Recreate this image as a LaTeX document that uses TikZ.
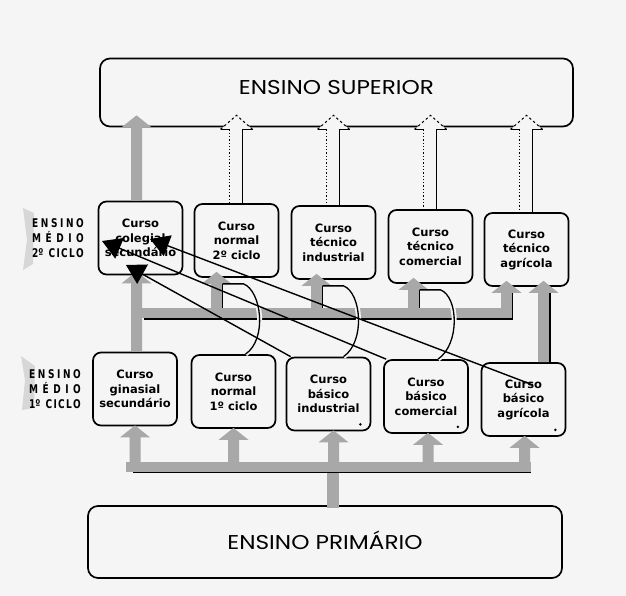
\documentclass[tikz,border=0pt]{standalone}
\usepackage{fontspec}
\usepackage{graphicx}
\usetikzlibrary{arrows.meta,calc}
\newfontfamily\labelfont{DejaVu Sans}
\newfontfamily\headfont{Poppins}
\definecolor{paper}{gray}{0.96}
\definecolor{arrowgray}{gray}{0.66}

% narrow letters spread over a fixed width (stage labels)
\newcommand\spread[1]{\scalebox{0.75}[1]{\makebox[69pt][s]{#1}}}
% wide lettering for the two levels
\newcommand\wide[1]{\scalebox{1.16}[1]{#1}}

% thick grey arrow pointing up: #1 = foot, #2 = tip (same x)
\newcommand\fatup[2]{%
  \fill[arrowgray] ($(#1)+(-5.5,0)$) -- ($(#2)+(-5.5,12)$) -- ($(#2)+(-15,12)$)
    -- (#2) -- ($(#2)+(15,12)$) -- ($(#2)+(5.5,12)$) -- ($(#1)+(5.5,0)$) -- cycle;}

% open arrow with dotted shaft from a course box up to higher education
\newcommand\hollowclimb[1]{%
  \coordinate (hb) at (#1.north);
  \coordinate (ht) at ($(#1.north |- sup.south)+(0,-12)$);
  \fill[paper] ($(ht)+(-16,14)$) -- (ht) -- ($(ht)+(16,14)$) -- cycle;
  \draw[line width=1pt, dash pattern=on 2.5pt off 2.5pt]
    ($(ht)+(-16,14)$) -- (ht) -- ($(ht)+(16,14)$);
  \draw[line width=1.3pt, dotted] ($(ht)+(-7,14)$) -- ($(hb)+(-7,0)$);
  \draw[line width=1.3pt] ($(ht)+(16,14)$) -- ($(ht)+(6,14)$) -- ($(hb)+(6,0)$);
  \draw[line width=1pt] ($(ht)+(-16,14)$) -- ($(ht)+(-8,14)$);}

\begin{document}
\begin{tikzpicture}[x=1pt,y=-1pt,
  course/.style={draw, line width=1.7pt, rounded corners=8pt, fill=paper,
    minimum width=84pt, minimum height=73pt, inner sep=0pt, align=center,
    font=\labelfont\bfseries\fontsize{11.5}{14.5}\selectfont},
  level/.style={draw, line width=1.7pt, rounded corners=10pt, fill=paper,
    inner sep=0pt, font=\headfont\fontsize{20}{22}\selectfont},
  stage/.style={font=\labelfont\bfseries\fontsize{12}{15}\selectfont,
    align=center, inner sep=0pt},
  smudge/.style={draw=none, fill=black, fill opacity=0.12},
  edge/.style={line width=1.3pt},
  halo/.style={draw=paper, line width=5pt},
  pointer/.style={line width=1.4pt, -{Triangle[length=19pt,width=22pt]}}]

\useasboundingbox (0,0) rectangle (626,596);
\fill[paper] (0,0) rectangle (626,596);

% faint grey tabs behind the stage labels
\fill[smudge] (23,208) -- (34,213) -- (33,264) -- (23,270) -- (27,240) -- cycle;
\fill[smudge] (21,356) -- (35,366) -- (34,408) -- (22,410) -- (25,380) -- cycle;

% levels
\node[level, minimum width=473pt, minimum height=68pt, text depth=10pt]
  (sup) at (336.5,92.5) {\wide{ENSINO SUPERIOR}};
\node[level, minimum width=474pt, minimum height=72pt, text depth=4pt]
  (prim) at (325,542) {\wide{ENSINO PRIMÁRIO}};

% second cycle
\node[course] (colegial) at (140.5,238)   {Curso\\colegial\\secundário};
\node[course] (normal2)  at (236.5,240.5) {Curso\\normal\\2º ciclo};
\node[course] (tecind)   at (333.5,242.5) {Curso\\técnico\\industrial};
\node[course] (teccom)   at (430.5,246.5) {Curso\\técnico\\comercial};
\node[course] (tecagr)   at (526.5,249.5) {Curso\\técnico\\agrícola};

% first cycle
\node[course] (ginasial) at (135,389)   {Curso\\ginasial\\secundário};
\node[course] (normal1)  at (233.5,391.5) {Curso\\normal\\1º ciclo};
\node[course] (basind)   at (328.5,394) {Curso\\básico\\industrial};
\node[course] (bascom)   at (426,396.5) {Curso\\básico\\comercial};
\node[course] (basagr)   at (523.5,399.5) {Curso\\básico\\agrícola};

% stage labels
\node[stage] (stage2) at (58,238)
  {\spread{E\hfill N\hfill S\hfill I\hfill N\hfill O}\\
   \spread{M\hfill É\hfill D\hfill I\hfill O}\\
   \spread{2º\hspace{5pt}\hfill C\hfill I\hfill C\hfill L\hfill O}};
\node[stage] (stage1) at (55,389)
  {\spread{E\hfill N\hfill S\hfill I\hfill N\hfill O}\\
   \spread{M\hfill É\hfill D\hfill I\hfill O}\\
   \spread{1º\hspace{5pt}\hfill C\hfill I\hfill C\hfill L\hfill O}};

% ---- primary school feeds every first-cycle course
\coordinate (fanbar) at (0,467);
\coordinate (trunk) at ($(prim.north)+(8,3)$);
\fill[arrowgray] ($(trunk)+(-6,0)$) rectangle ($(trunk |- fanbar)+(6,0)$);
\fill[arrowgray] ($(ginasial.south |- fanbar)+(-9,-5)$) rectangle ($(basagr.south |- fanbar)+(7,5)$);
\draw[edge] ($(ginasial.south |- fanbar)+(-2,5.5)$) -- ($(basagr.south |- fanbar)+(7,5.5)$);
\foreach \b/\dx in {ginasial/0, normal1/0, basind/5, bascom/2, basagr/1}{
  \coordinate (p) at ($(\b.south)+(\dx,-1)$);
  \fatup{p |- fanbar}{p}
}

% ---- first cycle to second cycle
\coordinate (midbar) at (0,313);
\coordinate (f2) at ($(normal2.south)+(-20,-6)$);
\coordinate (f3) at ($(tecind.south)+(-17,-6)$);
\coordinate (f4) at ($(teccom.south)+(-17,-6)$);
\coordinate (f5) at ($(tecagr.south)+(-20,-6)$);
\coordinate (g1t) at ($(colegial.south)+(-4,-4)$);
\coordinate (g1b) at (g1t |- ginasial.north);
\coordinate (g5b) at ($(basagr.north)+(20,0)$);
\coordinate (g5t) at ($(tecagr.south)+(17,-6)$);

\fill[arrowgray] ($(g1b |- midbar)+(0,-5)$) rectangle ($(f5 |- midbar)+(5.5,5)$);
\fatup{g1b}{g1t}
\foreach \f in {f2,f3,f4,f5}{\fatup{\f |- midbar}{\f}}
\fatup{g5b}{g5t}

% shadow edges of the feed arrows
\draw[edge] ($(g1b |- midbar)+(7,6)$) -- ($(f5 |- midbar)+(6.2,6)$) -- ($(f5)+(6.2,12)$);
\foreach \f in {f2,f3,f4}{\draw[edge] ($(\f)+(6.2,12)$) -- ($(\f |- midbar)+(6.2,-5)$);}
\draw[edge] ($(g5t)+(6.5,12)$) -- ($(g5b)+(6.5,0)$);

% curved arrows from the technical first-cycle courses
\coordinate (e2) at ($(normal1.north)+(12,0)$);
\coordinate (e3) at ($(basind.north)+(15,0)$);
\coordinate (e4) at ($(bascom.north)+(12,0)$);
\foreach \f/\e in {f2/e2, f3/e3, f4/e4}{
  \path ($(\f)+(6.2,12)$) coordinate (ds) ($(\f)+(27,12)$) coordinate (dt);
  \draw[halo] (dt) .. controls +(18,7) and +(22,-15) .. (\e);
  \draw[edge] (ds) -- (dt) .. controls +(18,7) and +(22,-15) .. (\e);
}

% ---- second cycle to higher education
\coordinate (s1b) at ($(colegial.north)+(-4,0)$);
\coordinate (s1t) at ($(colegial.north |- sup.south)+(-4,-12)$);
\fatup{s1b}{s1t}
\hollowclimb{normal2}
\hollowclimb{tecind}
\hollowclimb{teccom}
\hollowclimb{tecagr}

% marks in the basic courses
\foreach \b in {basind, bascom, basagr}{
  \fill ($(\b.south east)+(-11,-7)$) circle[radius=1.4];
}

% pointers back to the secondary course
\coordinate (t1) at ($(colegial.center)+(-38.5,3)$);
\coordinate (t2) at ($(colegial.center)+(9.5,1)$);
\coordinate (t3) at ($(colegial.center)+(-14.5,27)$);
\draw[pointer] ($(basind.north west)+(5,0)$) -- (t3);
\draw[pointer] ($(bascom.north west)+(3,0)$) -- (t1);
\draw[pointer] ($(basagr.center)+(9.5,-14.5)$) -- (t2);
\end{tikzpicture}
\end{document}
